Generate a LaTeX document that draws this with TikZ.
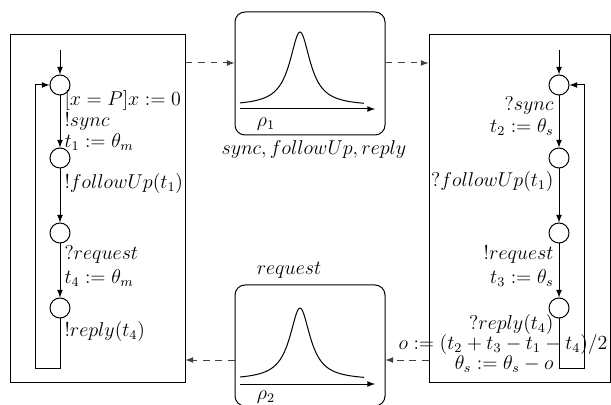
\documentclass[tikz,border=0pt]{standalone}
\usepackage{amsmath}
\usepackage{tikz}
\usetikzlibrary{calc}

\begin{document}
\begin{tikzpicture}[-latex, x=0.6pt, y=-0.6pt, semithick,
state/.style = {shape=circle, draw, minimum size=12pt, inner sep=0pt},
proc/.style = {shape=rectangle, draw, inner sep=0pt},
chan/.style = {shape=rectangle, draw, rounded corners=6pt, inner sep=0pt,
  minimum width=90pt},
lbl/.style = {inner sep=0pt, font=\large},
flow/.style = {dashed, draw=black!75, dash pattern=on 4pt off 3.5pt}
]
\useasboundingbox (0,0) rectangle (611,405);

% master and slave boxes
\node [proc, minimum width=105pt, minimum height=208.8pt] (ctrl) at (97.5,209) {};
\node [proc, minimum width=108.6pt, minimum height=208.8pt] (resp) at (519.5,209) {};

% channels
\node [chan, minimum height=73.8pt] (ch1) at (310,73.5) {};
\node [chan, minimum height=72.6pt] (ch2) at (310,345.5) {};

\draw [-] plot[domain=240:364, samples=125, smooth] (\x, {106-74/(1+((\x-300)/12.5)^2)});
\draw (240,109) -- (375,109);
\node [lbl] (r1) at (266,124) {$\rho_1$};
\draw [-] plot[domain=240:364, samples=125, smooth] (\x, {380-72/(1+((\x-300)/12.5)^2)});
\draw (240,384) -- (375,384);
\node [lbl] (r2) at (266,397) {$\rho_2$};

\node [lbl] (msg1) at (314,150) {$sync, followUp, reply$};
\node [lbl] (msg2) at (289,270) {$request$};

\draw [flow] (ctrl.east |- 0,63) -- (ch1.west |- 0,63);
\draw [flow] (ch1.east |- 0,63) -- (resp.west |- 0,63);
\draw [flow] (resp.west |- 0,360) -- (ch2.east |- 0,360);
\draw [flow] (ch2.west |- 0,360) -- (ctrl.east |- 0,360);

% master automaton
\coordinate (m0) at (60,50);
\node [state] (m1) at (60,85) {};
\node [state] (m2) at (60,158) {};
\node [state] (m3) at (60,233) {};
\node [state] (m4) at (60,308) {};
\coordinate (mret) at (35,368);
\draw (m0) -- (m1);
\draw (m1) -- (m2);
\draw (m2) -- (m3);
\draw (m3) -- (m4);
\draw (m4.south) |- (mret) |- (m1.west);

\node [lbl, anchor=west] (ma) at (64,101) {$[x=P]x:=0$};
\node [lbl, anchor=west] (mb) at (64,122) {$!sync$};
\node [lbl, anchor=west] (mc) at (64,142) {$t_1:=\theta_m$};
\node [lbl, anchor=west] (md) at (64,184) {$!followUp(t_1)$};
\node [lbl, anchor=west] (me) at (64,255) {$?request$};
\node [lbl, anchor=west] (mf) at (64,278) {$t_4:=\theta_m$};
\node [lbl, anchor=west] (mg) at (64,332) {$!reply(t_4)$};

% slave automaton
\coordinate (s0) at (559,50);
\node [state] (s1) at (559,85) {};
\node [state] (s2) at (559,158) {};
\node [state] (s3) at (559,233) {};
\node [state] (s4) at (559,308) {};
\coordinate (sret) at (584,368);
\draw (s0) -- (s1);
\draw (s1) -- (s2);
\draw (s2) -- (s3);
\draw (s3) -- (s4);
\draw (s4.south) |- (sret) |- (s1.east);

\node [lbl, anchor=east] (sa) at (554,106) {$?sync$};
\node [lbl, anchor=east] (sb) at (554,127) {$t_2:=\theta_s$};
\node [lbl, anchor=east] (sc) at (554,182) {$?followUp(t_1)$};
\node [lbl, anchor=east] (sd) at (554,255) {$!request$};
\node [lbl, anchor=east] (se) at (554,278) {$t_3:=\theta_s$};
\node [lbl, anchor=east] (sf) at (554,325) {$?reply(t_4)$};
\node [lbl, anchor=east] (sg) at (608,345) {$o:=(t_2+t_3-t_1-t_4)/2$};
\node [lbl, anchor=east] (sh) at (554,364) {$\theta_s:=\theta_s-o$};

\end{tikzpicture}
\end{document}
